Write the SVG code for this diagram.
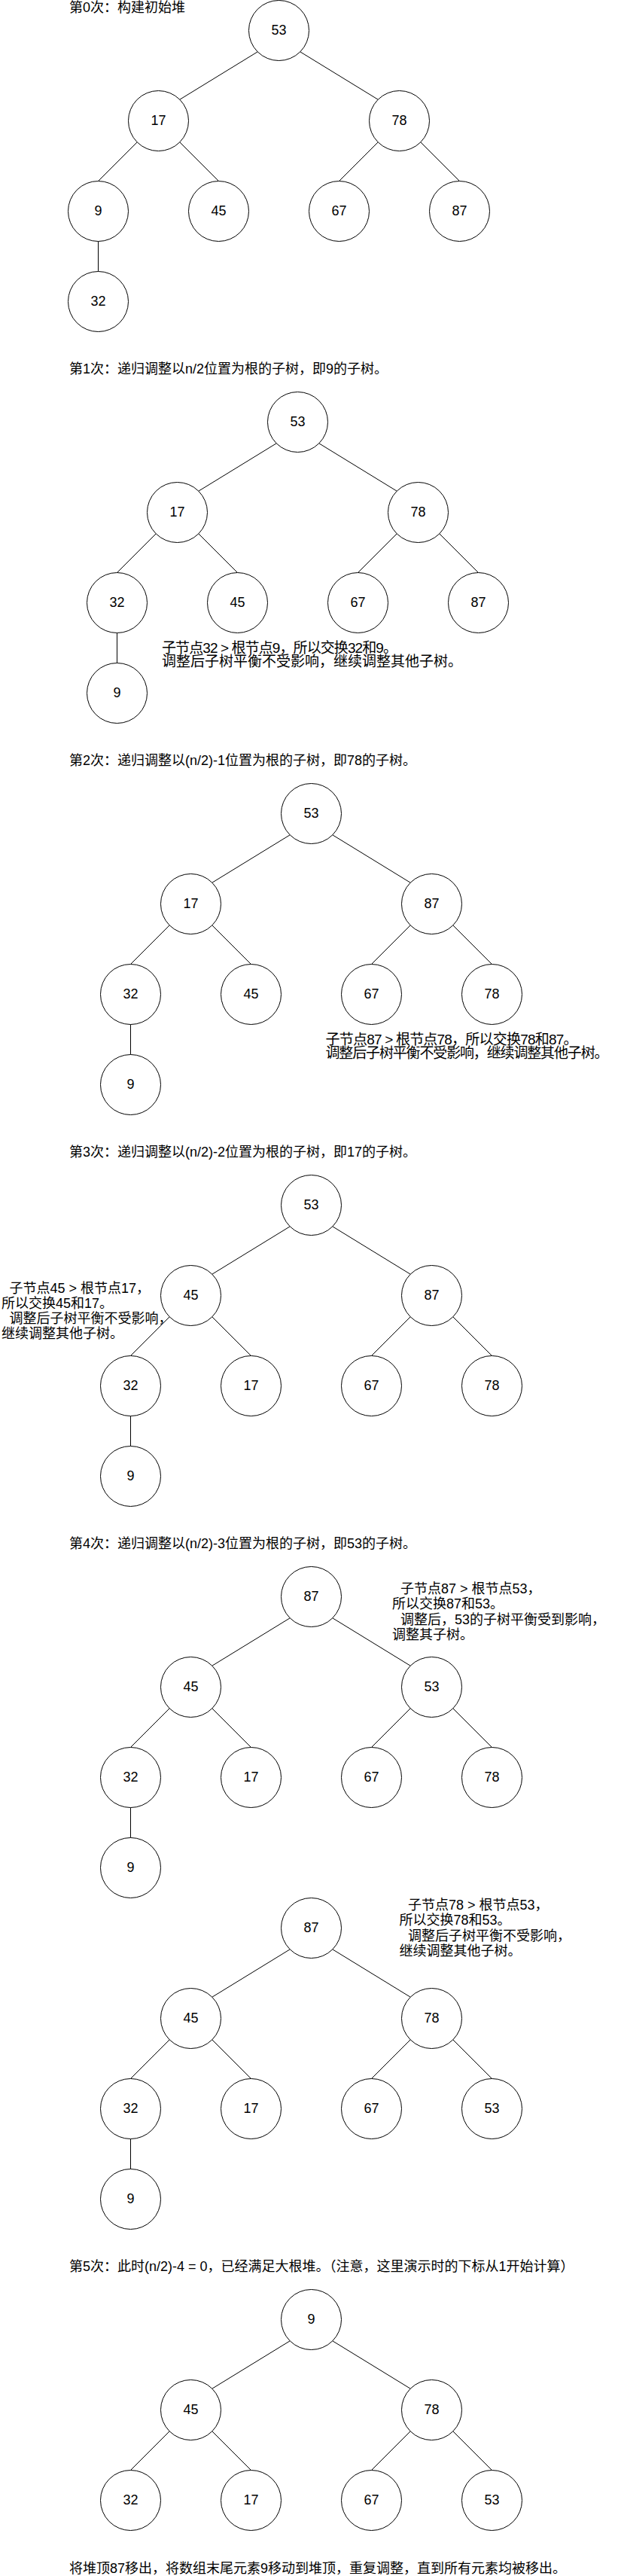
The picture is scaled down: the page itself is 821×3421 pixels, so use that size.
<svg xmlns="http://www.w3.org/2000/svg" width="821" height="3421" viewBox="0 0 821 3421">
<style>
text{font-family:"Liberation Sans","Noto Sans CJK SC",sans-serif;font-size:18px;fill:#000}
.n circle{fill:#fff;stroke:#000;stroke-width:1}
.n text{text-anchor:middle}
.e line{stroke:#000;stroke-width:1;fill:none}
.b{font-size:19px}
</style>
<rect width="821" height="3421" fill="#fff"/>

<g id="titles">
<text x="92" y="16.3">第0次：构建初始堆</text>
<text x="92" y="496">第1次：递归调整以n/2位置为根的子树，即9的子树。</text>
<text x="92" y="1016">第2次：递归调整以(n/2)-1位置为根的子树，即78的子树。</text>
<text x="92" y="1536">第3次：递归调整以(n/2)-2位置为根的子树，即17的子树。</text>
<text x="92" y="2056">第4次：递归调整以(n/2)-3位置为根的子树，即53的子树。</text>
<text x="92" y="3016">第5次：此时(n/2)-4 = 0，已经满足大根堆。（注意，这里演示时的下标从1开始计算）</text>
<text x="92" y="3416.5">将堆顶87移出，将数组末尾元素9移动到堆顶，重复调整，直到所有元素均被移出。</text>
</g>

<g id="notes">
<text class="b" x="215" y="867.3" textLength="313" lengthAdjust="spacing">子节点32 &gt; 根节点9，所以交换32和9。</text>
<text class="b" x="215" y="885.3">调整后子树平衡不受影响，继续调整其他子树。</text>
<text class="b" x="432.5" y="1387.3" textLength="335" lengthAdjust="spacing">子节点87 &gt; 根节点78，所以交换78和87。</text>
<text class="b" x="432.5" y="1405.3" textLength="376" lengthAdjust="spacing">调整后子树平衡不受影响，继续调整其他子树。</text>
<text x="12.5" y="1717.4">子节点45 &gt; 根节点17，</text>
<text x="2" y="1737.4">所以交换45和17。</text>
<text x="12.5" y="1757.4">调整后子树平衡不受影响，</text>
<text x="2" y="1777.4">继续调整其他子树。</text>
<text x="532" y="2116">子节点87 &gt; 根节点53，</text>
<text x="521" y="2136.4">所以交换87和53。</text>
<text x="532" y="2156.8">调整后，53的子树平衡受到影响，</text>
<text x="521" y="2177.2">调整其子树。</text>
<text x="542" y="2536">子节点78 &gt; 根节点53，</text>
<text x="530.5" y="2556.4">所以交换78和53。</text>
<text x="542" y="2576.8">调整后子树平衡不受影响，</text>
<text x="530.5" y="2597.2">继续调整其他子树。</text>
</g>

<!-- tree 0 -->
<g id="tree0" transform="translate(370.5,40.5)">
<g class="e" id="tree0-connectors">
<line x1="-28.3" y1="28.3" x2="-131.7" y2="91.7"/>
<line x1="28.3" y1="28.3" x2="131.7" y2="91.7"/>
<line x1="-188.3" y1="148.3" x2="-240" y2="200"/>
<line x1="-131.7" y1="148.3" x2="-80" y2="200"/>
<line x1="131.7" y1="148.3" x2="80" y2="200"/>
<line x1="188.3" y1="148.3" x2="240" y2="200"/>
<line x1="-240" y1="280" x2="-240" y2="320"/>
</g>
<g class="n" id="t0-root"><circle cx="0" cy="0" r="40"/><text x="0" y="5.5">53</text></g>
<g class="n" id="t0-l"><circle cx="-160" cy="120" r="40"/><text x="-160" y="125.5">17</text></g>
<g class="n" id="t0-r"><circle cx="160" cy="120" r="40"/><text x="160" y="125.5">78</text></g>
<g class="n" id="t0-ll"><circle cx="-240" cy="240" r="40"/><text x="-240" y="245.5">9</text></g>
<g class="n" id="t0-lr"><circle cx="-80" cy="240" r="40"/><text x="-80" y="245.5">45</text></g>
<g class="n" id="t0-rl"><circle cx="80" cy="240" r="40"/><text x="80" y="245.5">67</text></g>
<g class="n" id="t0-rr"><circle cx="240" cy="240" r="40"/><text x="240" y="245.5">87</text></g>
<g class="n" id="t0-lll"><circle cx="-240" cy="360" r="40"/><text x="-240" y="365.5">32</text></g>
</g>

<!-- tree 1 -->
<g id="tree1" transform="translate(395.5,560.5)">
<g class="e" id="tree1-connectors">
<line x1="-28.3" y1="28.3" x2="-131.7" y2="91.7"/>
<line x1="28.3" y1="28.3" x2="131.7" y2="91.7"/>
<line x1="-188.3" y1="148.3" x2="-240" y2="200"/>
<line x1="-131.7" y1="148.3" x2="-80" y2="200"/>
<line x1="131.7" y1="148.3" x2="80" y2="200"/>
<line x1="188.3" y1="148.3" x2="240" y2="200"/>
<line x1="-240" y1="280" x2="-240" y2="320"/>
</g>
<g class="n" id="t1-root"><circle cx="0" cy="0" r="40"/><text x="0" y="5.5">53</text></g>
<g class="n" id="t1-l"><circle cx="-160" cy="120" r="40"/><text x="-160" y="125.5">17</text></g>
<g class="n" id="t1-r"><circle cx="160" cy="120" r="40"/><text x="160" y="125.5">78</text></g>
<g class="n" id="t1-ll"><circle cx="-240" cy="240" r="40"/><text x="-240" y="245.5">32</text></g>
<g class="n" id="t1-lr"><circle cx="-80" cy="240" r="40"/><text x="-80" y="245.5">45</text></g>
<g class="n" id="t1-rl"><circle cx="80" cy="240" r="40"/><text x="80" y="245.5">67</text></g>
<g class="n" id="t1-rr"><circle cx="240" cy="240" r="40"/><text x="240" y="245.5">87</text></g>
<g class="n" id="t1-lll"><circle cx="-240" cy="360" r="40"/><text x="-240" y="365.5">9</text></g>
</g>

<!-- tree 2 -->
<g id="tree2" transform="translate(413.5,1080.5)">
<g class="e" id="tree2-connectors">
<line x1="-28.3" y1="28.3" x2="-131.7" y2="91.7"/>
<line x1="28.3" y1="28.3" x2="131.7" y2="91.7"/>
<line x1="-188.3" y1="148.3" x2="-240" y2="200"/>
<line x1="-131.7" y1="148.3" x2="-80" y2="200"/>
<line x1="131.7" y1="148.3" x2="80" y2="200"/>
<line x1="188.3" y1="148.3" x2="240" y2="200"/>
<line x1="-240" y1="280" x2="-240" y2="320"/>
</g>
<g class="n" id="t2-root"><circle cx="0" cy="0" r="40"/><text x="0" y="5.5">53</text></g>
<g class="n" id="t2-l"><circle cx="-160" cy="120" r="40"/><text x="-160" y="125.5">17</text></g>
<g class="n" id="t2-r"><circle cx="160" cy="120" r="40"/><text x="160" y="125.5">87</text></g>
<g class="n" id="t2-ll"><circle cx="-240" cy="240" r="40"/><text x="-240" y="245.5">32</text></g>
<g class="n" id="t2-lr"><circle cx="-80" cy="240" r="40"/><text x="-80" y="245.5">45</text></g>
<g class="n" id="t2-rl"><circle cx="80" cy="240" r="40"/><text x="80" y="245.5">67</text></g>
<g class="n" id="t2-rr"><circle cx="240" cy="240" r="40"/><text x="240" y="245.5">78</text></g>
<g class="n" id="t2-lll"><circle cx="-240" cy="360" r="40"/><text x="-240" y="365.5">9</text></g>
</g>

<!-- tree 3 -->
<g id="tree3" transform="translate(413.5,1600.5)">
<g class="e" id="tree3-connectors">
<line x1="-28.3" y1="28.3" x2="-131.7" y2="91.7"/>
<line x1="28.3" y1="28.3" x2="131.7" y2="91.7"/>
<line x1="-188.3" y1="148.3" x2="-240" y2="200"/>
<line x1="-131.7" y1="148.3" x2="-80" y2="200"/>
<line x1="131.7" y1="148.3" x2="80" y2="200"/>
<line x1="188.3" y1="148.3" x2="240" y2="200"/>
<line x1="-240" y1="280" x2="-240" y2="320"/>
</g>
<g class="n" id="t3-root"><circle cx="0" cy="0" r="40"/><text x="0" y="5.5">53</text></g>
<g class="n" id="t3-l"><circle cx="-160" cy="120" r="40"/><text x="-160" y="125.5">45</text></g>
<g class="n" id="t3-r"><circle cx="160" cy="120" r="40"/><text x="160" y="125.5">87</text></g>
<g class="n" id="t3-ll"><circle cx="-240" cy="240" r="40"/><text x="-240" y="245.5">32</text></g>
<g class="n" id="t3-lr"><circle cx="-80" cy="240" r="40"/><text x="-80" y="245.5">17</text></g>
<g class="n" id="t3-rl"><circle cx="80" cy="240" r="40"/><text x="80" y="245.5">67</text></g>
<g class="n" id="t3-rr"><circle cx="240" cy="240" r="40"/><text x="240" y="245.5">78</text></g>
<g class="n" id="t3-lll"><circle cx="-240" cy="360" r="40"/><text x="-240" y="365.5">9</text></g>
</g>

<!-- tree 4 -->
<g id="tree4" transform="translate(413.5,2120.5)">
<g class="e" id="tree4-connectors">
<line x1="-28.3" y1="28.3" x2="-131.7" y2="91.7"/>
<line x1="28.3" y1="28.3" x2="131.7" y2="91.7"/>
<line x1="-188.3" y1="148.3" x2="-240" y2="200"/>
<line x1="-131.7" y1="148.3" x2="-80" y2="200"/>
<line x1="131.7" y1="148.3" x2="80" y2="200"/>
<line x1="188.3" y1="148.3" x2="240" y2="200"/>
<line x1="-240" y1="280" x2="-240" y2="320"/>
</g>
<g class="n" id="t4-root"><circle cx="0" cy="0" r="40"/><text x="0" y="5.5">87</text></g>
<g class="n" id="t4-l"><circle cx="-160" cy="120" r="40"/><text x="-160" y="125.5">45</text></g>
<g class="n" id="t4-r"><circle cx="160" cy="120" r="40"/><text x="160" y="125.5">53</text></g>
<g class="n" id="t4-ll"><circle cx="-240" cy="240" r="40"/><text x="-240" y="245.5">32</text></g>
<g class="n" id="t4-lr"><circle cx="-80" cy="240" r="40"/><text x="-80" y="245.5">17</text></g>
<g class="n" id="t4-rl"><circle cx="80" cy="240" r="40"/><text x="80" y="245.5">67</text></g>
<g class="n" id="t4-rr"><circle cx="240" cy="240" r="40"/><text x="240" y="245.5">78</text></g>
<g class="n" id="t4-lll"><circle cx="-240" cy="360" r="40"/><text x="-240" y="365.5">9</text></g>
</g>

<!-- tree 4b -->
<g id="tree4b" transform="translate(413.5,2560.5)">
<g class="e" id="tree4b-connectors">
<line x1="-28.3" y1="28.3" x2="-131.7" y2="91.7"/>
<line x1="28.3" y1="28.3" x2="131.7" y2="91.7"/>
<line x1="-188.3" y1="148.3" x2="-240" y2="200"/>
<line x1="-131.7" y1="148.3" x2="-80" y2="200"/>
<line x1="131.7" y1="148.3" x2="80" y2="200"/>
<line x1="188.3" y1="148.3" x2="240" y2="200"/>
<line x1="-240" y1="280" x2="-240" y2="320"/>
</g>
<g class="n" id="t4b-root"><circle cx="0" cy="0" r="40"/><text x="0" y="5.5">87</text></g>
<g class="n" id="t4b-l"><circle cx="-160" cy="120" r="40"/><text x="-160" y="125.5">45</text></g>
<g class="n" id="t4b-r"><circle cx="160" cy="120" r="40"/><text x="160" y="125.5">78</text></g>
<g class="n" id="t4b-ll"><circle cx="-240" cy="240" r="40"/><text x="-240" y="245.5">32</text></g>
<g class="n" id="t4b-lr"><circle cx="-80" cy="240" r="40"/><text x="-80" y="245.5">17</text></g>
<g class="n" id="t4b-rl"><circle cx="80" cy="240" r="40"/><text x="80" y="245.5">67</text></g>
<g class="n" id="t4b-rr"><circle cx="240" cy="240" r="40"/><text x="240" y="245.5">53</text></g>
<g class="n" id="t4b-lll"><circle cx="-240" cy="360" r="40"/><text x="-240" y="365.5">9</text></g>
</g>

<!-- tree 5 -->
<g id="tree5" transform="translate(413.5,3080.5)">
<g class="e" id="tree5-connectors">
<line x1="-28.3" y1="28.3" x2="-131.7" y2="91.7"/>
<line x1="28.3" y1="28.3" x2="131.7" y2="91.7"/>
<line x1="-188.3" y1="148.3" x2="-240" y2="200"/>
<line x1="-131.7" y1="148.3" x2="-80" y2="200"/>
<line x1="131.7" y1="148.3" x2="80" y2="200"/>
<line x1="188.3" y1="148.3" x2="240" y2="200"/>
</g>
<g class="n" id="t5-root"><circle cx="0" cy="0" r="40"/><text x="0" y="5.5">9</text></g>
<g class="n" id="t5-l"><circle cx="-160" cy="120" r="40"/><text x="-160" y="125.5">45</text></g>
<g class="n" id="t5-r"><circle cx="160" cy="120" r="40"/><text x="160" y="125.5">78</text></g>
<g class="n" id="t5-ll"><circle cx="-240" cy="240" r="40"/><text x="-240" y="245.5">32</text></g>
<g class="n" id="t5-lr"><circle cx="-80" cy="240" r="40"/><text x="-80" y="245.5">17</text></g>
<g class="n" id="t5-rl"><circle cx="80" cy="240" r="40"/><text x="80" y="245.5">67</text></g>
<g class="n" id="t5-rr"><circle cx="240" cy="240" r="40"/><text x="240" y="245.5">53</text></g>
</g>
</svg>
